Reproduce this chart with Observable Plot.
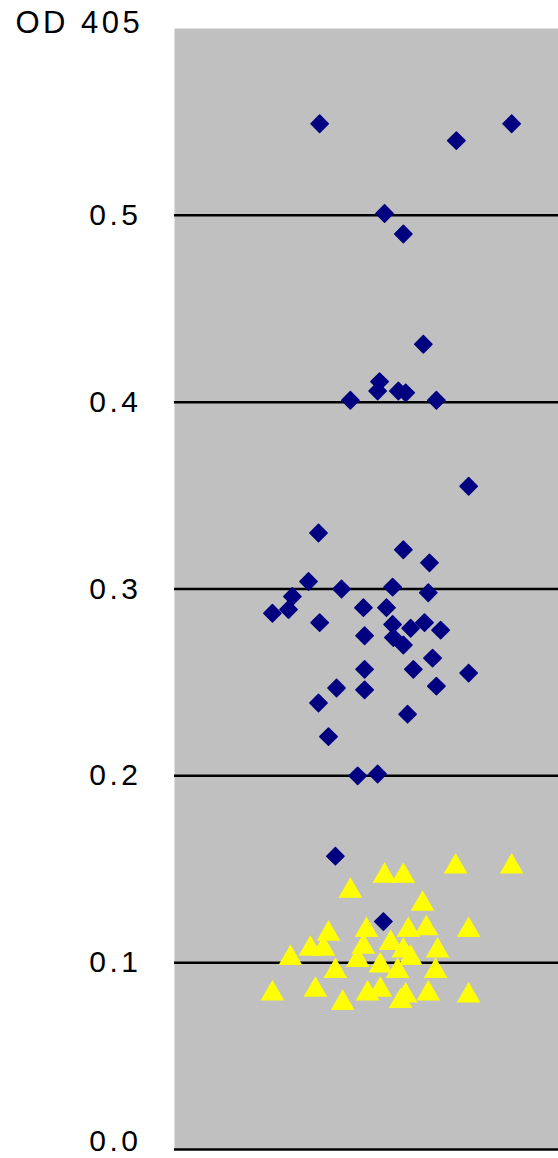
<!DOCTYPE html>
<html>
<head>
<meta charset="utf-8">
<script src="https://cdn.jsdelivr.net/npm/d3@7"></script>
<script src="https://cdn.jsdelivr.net/npm/@observablehq/plot@0.6"></script>
<style>
  html, body { margin: 0; padding: 0; background: #ffffff; }
  #chart svg { display: block; }
</style>
</head>
<body>
<div id="chart"></div>
<script>
// Y axis
const yLabel = "OD 405";
const yTicks = [0.1, 0.2, 0.3, 0.4, 0.5];
const yZeroTick = [0];
const gridValues = [0.1, 0.2, 0.3, 0.4, 0.5];

// Series 1 (blue diamonds): jitter position and OD 405 value
const blueX = [3.78, 7.34, 8.78, 5.47, 5.96, 6.48, 5.34, 5.29, 4.58, 5.83, 6.02, 6.82, 7.66,
  3.75, 5.96, 6.64, 3.49, 4.35, 5.68, 6.61, 3.07, 2.97, 2.55, 3.78, 4.92, 5.52, 5.68, 6.15,
  6.51, 6.93, 4.95, 5.70, 5.96, 6.72, 6.22, 7.66, 4.95, 6.82, 4.22, 4.95, 3.75, 6.07, 4.01,
  4.77, 5.29, 4.19, 5.44];
const blueY = [0.549, 0.540, 0.549, 0.501, 0.490, 0.431, 0.411, 0.406, 0.401, 0.406, 0.405, 0.401, 0.355,
  0.330, 0.321, 0.314, 0.304, 0.300, 0.301, 0.298, 0.296, 0.289, 0.287, 0.282, 0.290, 0.290, 0.281, 0.279,
  0.282, 0.278, 0.275, 0.274, 0.270, 0.263, 0.257, 0.255, 0.257, 0.248, 0.247, 0.246, 0.239, 0.233, 0.221,
  0.200, 0.201, 0.157, 0.122];

// Series 2 (yellow triangles)
const yellowX = [7.32, 8.78, 5.47, 5.96, 4.58, 6.46, 7.66, 4.01, 5.00, 6.09, 6.56, 3.88, 4.92,
  5.63, 5.96, 6.85, 3.02, 4.77, 6.15, 5.36, 4.19, 5.81, 6.80, 2.55, 3.67, 4.38, 5.03, 5.36,
  6.02, 6.61, 7.66, 5.89, 3.54];
const yellowY = [0.153, 0.153, 0.148, 0.148, 0.140, 0.133, 0.119, 0.117, 0.119, 0.119, 0.120, 0.109, 0.110,
  0.112, 0.108, 0.108, 0.104, 0.103, 0.104, 0.100, 0.097, 0.097, 0.097, 0.085, 0.087, 0.080, 0.085, 0.087,
  0.084, 0.085, 0.084, 0.081, 0.109];

const blue = blueX.map((x, i) => ({x, y: blueY[i]}));
const yellow = yellowX.map((x, i) => ({x, y: yellowY[i]}));

const fmt = d3.format(".1f");

const chart = Plot.plot({
  width: 558,
  height: 1158,
  marginLeft: 174,
  marginRight: 0,
  marginTop: 28,
  marginBottom: 9,
  style: {fontFamily: "'Liberation Sans', Arial, sans-serif", fontSize: "30px", background: "#ffffff", color: "#000"},
  x: {domain: [0, 10], axis: null},
  y: {domain: [0, 0.6], axis: null},
  marks: [
    Plot.frame({fill: "#c0c0c0", stroke: null}),
    Plot.axisY(yTicks, {tickSize: 0, tickPadding: 33, tickFormat: fmt, label: null, fontSize: 30}),
    Plot.axisY(yZeroTick, {tickSize: 0, tickPadding: 33, tickFormat: fmt, label: null, fontSize: 30, dy: -8}),
    Plot.ruleY(gridValues, {stroke: "#000", strokeWidth: 2.5}),
    Plot.ruleY([0], {stroke: "#000", strokeWidth: 2.5}),
    Plot.dot(yellow, {x: "x", y: "y", symbol: "triangle", r: 8.8, dy: 3, fill: "#ffff00", stroke: null}),
    Plot.dot(blue, {x: "x", y: "y", symbol: "diamond2", r: 7.8, fill: "#000080", stroke: "#000080", strokeWidth: 1.5, strokeLinejoin: "round"}),
    Plot.text([yLabel], {frameAnchor: "top-left", dx: -159, dy: -5, textAnchor: "start", lineAnchor: "middle", fontSize: 31, fill: "#000"})
  ]
});
chart.querySelectorAll("text").forEach(t => t.setAttribute("letter-spacing", "3.5"));
document.getElementById("chart").appendChild(chart);
</script>
</body>
</html>
